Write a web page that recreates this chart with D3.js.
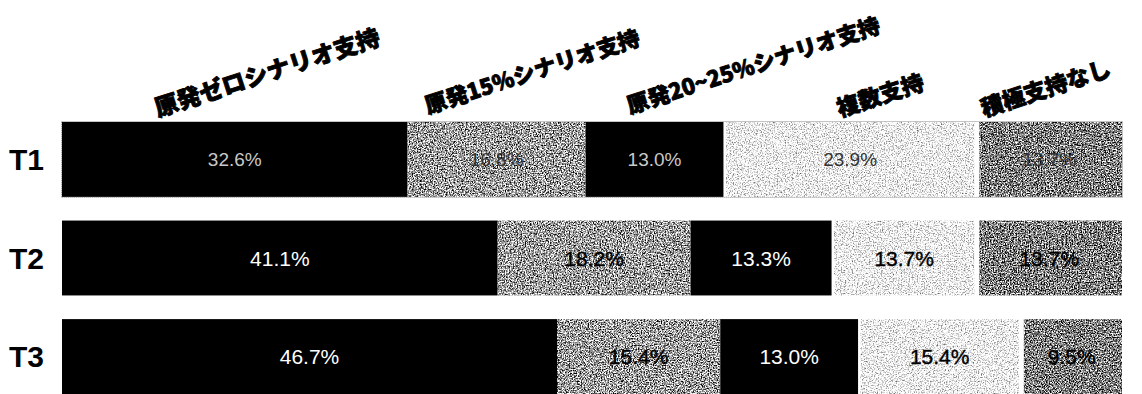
<!DOCTYPE html>
<html>
<head>
<meta charset="utf-8">
<script src="https://cdn.jsdelivr.net/npm/d3@7"></script>
<style>
  html, body { margin: 0; padding: 0; background: #fff; }
  svg { display: block; }
</style>
</head>
<body>
<svg id="chart" width="1142" height="394"></svg>
<script>
// ---- data ----
const rows = ["T1", "T2", "T3"];
const categories = ["原発ゼロシナリオ支持", "原発15%シナリオ支持", "原発20~25%シナリオ支持", "複数支持", "積極支持なし"];
const valuesT1 = [32.6, 16.8, 13.0, 23.9, 13.7];
const valuesT2 = [41.1, 18.2, 13.3, 13.7, 13.7];
const valuesT3 = [46.7, 15.4, 13.0, 15.4, 9.5];
const seriesValues = [valuesT1, valuesT2, valuesT3];

// ---- layout / style (not data) ----
const barLeft = 62, barRight = 1122;
const headerAnchors = [[158, 117], [428, 114], [630, 114], [840, 117], [984, 117]];
const headerSizes = [23.5, 22, 22, 22.5, 22.5];
const segStyle = [
  { kind: "solid", fill: "#000", text: "#fff", inset: 0 },
  { kind: "noise", mean: 0.62, contrast: 2.6, freq: 0.75, text: "#000", inset: 0 },
  { kind: "solid", fill: "#000", text: "#fff", inset: 0 },
  { kind: "noise", mean: 0.95, contrast: 1.6, freq: 0.75, text: "#000", inset: 2.5 },
  { kind: "noise", mean: 0.50, contrast: 2.6, freq: 0.75, text: "#000", inset: 2.5 }
];

const svg = d3.select("#chart");
const defs = svg.append("defs");

function addNoiseFilter(id, s, seed) {
  const f = defs.append("filter").attr("id", id)
    .attr("x", 0).attr("y", 0).attr("width", 1).attr("height", 1)
    .attr("color-interpolation-filters", "sRGB");
  f.append("feTurbulence").attr("type", "fractalNoise")
    .attr("baseFrequency", s.freq).attr("numOctaves", 2).attr("seed", seed).attr("result", "n");
  const a = s.contrast, b = s.mean - a * 0.5;
  f.append("feColorMatrix").attr("in", "n").attr("type", "matrix")
    .attr("values", `${a} 0 0 0 ${b}  ${a} 0 0 0 ${b}  ${a} 0 0 0 ${b}  0 0 0 0 1`).attr("result", "g");
  f.append("feComposite").attr("in", "g").attr("in2", "SourceGraphic").attr("operator", "in");
}

const y = d3.scaleBand().domain(rows).range([122, 394]).paddingInner(0.24).paddingOuter(0);

// header labels
svg.append("g").selectAll("text").data(categories).join("text")
  .attr("transform", (d, i) => `translate(${headerAnchors[i][0]},${headerAnchors[i][1]}) rotate(-18)`)
  .attr("font-family", "'Noto Sans CJK JP', sans-serif")
  .attr("font-weight", 900)
  .attr("font-size", (d, i) => headerSizes[i])
  .attr("fill", "#000")
  .attr("stroke", "#000")
  .attr("stroke-width", 0.9)
  .attr("stroke-linejoin", "round")
  .text(d => d);

// row labels
svg.append("g").selectAll("text").data(rows).join("text")
  .attr("x", 9)
  .attr("y", d => y(d) + y.bandwidth() / 2)
  .attr("dy", "0.36em")
  .attr("font-family", "'Liberation Sans', Arial, sans-serif")
  .attr("font-weight", "bold")
  .attr("font-size", 30)
  .attr("fill", "#000")
  .text(d => d);

rows.forEach((row, ri) => {
  const vals = seriesValues[ri];
  const total = d3.sum(vals);
  const x = d3.scaleLinear().domain([0, total]).range([barLeft, barRight]);
  const cum = d3.cumsum(vals);
  const segs = vals.map((v, i) => ({ v, i, start: cum[i] - v, end: cum[i] }));
  const g = svg.append("g");

  segs.forEach(s => {
    const st = segStyle[s.i];
    const x0 = x(s.start) + (s.i > 0 ? st.inset : 0);
    const x1 = x(s.end) - (s.i < vals.length - 1 ? st.inset : 0);
    const r = g.append("rect")
      .attr("x", x0).attr("y", y(row))
      .attr("width", x1 - x0).attr("height", y.bandwidth());
    if (st.kind === "solid") {
      r.attr("fill", st.fill);
    } else {
      const id = `nz-${ri}-${s.i}`;
      addNoiseFilter(id, st, 7 + ri * 5 + s.i);
      r.attr("fill", "#888").attr("filter", `url(#${id})`);
    }
  });

  if (ri === 0) {
    g.append("rect")
      .attr("x", barLeft - 0.5).attr("y", y(row) - 0.5)
      .attr("width", barRight - barLeft + 1).attr("height", y.bandwidth() + 1)
      .attr("fill", "none").attr("stroke", "#888").attr("stroke-width", 1)
      .attr("stroke-dasharray", "1,1");
  }

  g.selectAll("text.val").data(segs).join("text")
    .attr("class", "val")
    .attr("x", d => (x(d.start) + x(d.end)) / 2)
    .attr("y", y(row) + y.bandwidth() / 2)
    .attr("dy", "0.36em")
    .attr("text-anchor", "middle")
    .attr("font-family", "'Liberation Sans', Arial, sans-serif")
    .attr("font-size", ri === 0 ? 19 : 21)
    .attr("fill", d => ri === 0 ? (segStyle[d.i].kind === "solid" ? "#c8c8c8" : "#333") : segStyle[d.i].text)
    .attr("stroke", d => (ri > 0 && segStyle[d.i].kind !== "solid") ? "#000" : "none")
    .attr("stroke-width", 0.4)
    .text(d => d.v.toFixed(1) + "%");
});
</script>
</body>
</html>
